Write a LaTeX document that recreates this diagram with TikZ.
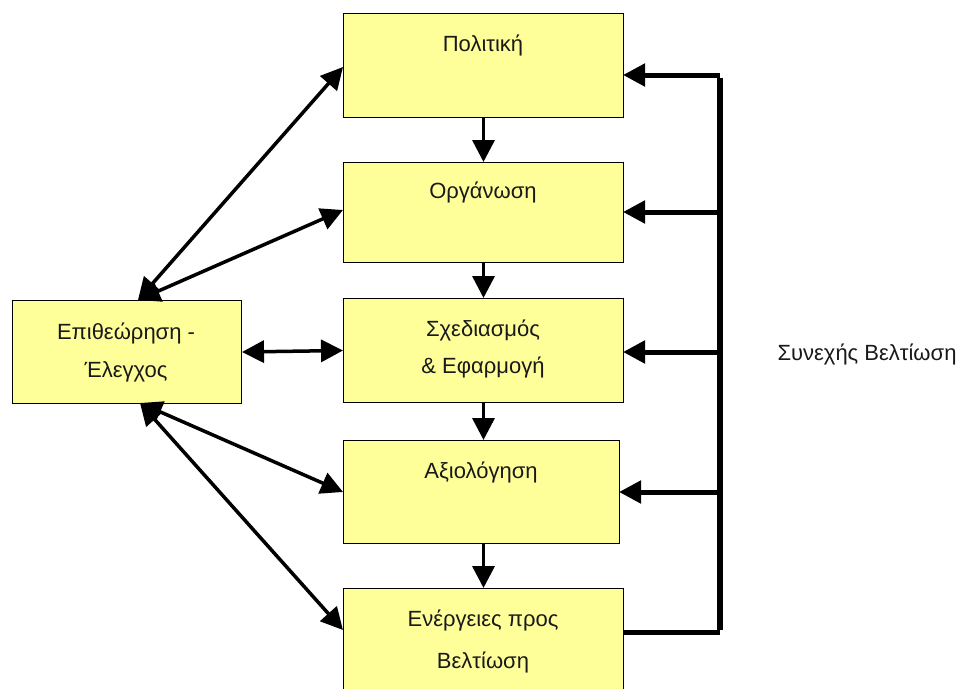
\documentclass[tikz,border=0pt]{standalone}
\usepackage{fontspec}
\setmainfont{Liberation Sans}
\usetikzlibrary{arrows.meta}
\definecolor{boxfill}{RGB}{255,255,153}
\tikzset{
  box/.style={draw=black, line width=1pt, fill=boxfill, anchor=north west, inner sep=0pt},
  lbl/.style={font=\fontsize{22}{26}\selectfont, inner sep=0pt, anchor=center, text=black!90},
  arr/.style={line width=3.5pt, -{Triangle[length=22pt,width=22pt]}},
  darr/.style={line width=3.5pt, {Triangle[length=22pt,width=22pt]}-{Triangle[length=22pt,width=22pt]}},
  bus/.style={line width=5pt},
}
\begin{document}
\begin{tikzpicture}[x=1pt,y=-1pt]
\useasboundingbox (0,0) rectangle (966,688);
\clip (0,0) rectangle (966,688);
% boxes
\node[box, minimum width=280pt, minimum height=104pt] (pol) at (343,13) {};
\node[box, minimum width=280pt, minimum height=100pt] (org) at (343,162) {};
\node[box, minimum width=280pt, minimum height=104pt] (sxe) at (343,298) {};
\node[box, minimum width=276pt, minimum height=103pt] (axi) at (343,440) {};
\node[box, minimum width=280pt, minimum height=110pt] (ene) at (343,588) {};
\node[box, minimum width=229pt, minimum height=103pt] (epi) at (12,300) {};
% labels
\node[lbl] (tpol) at (483,45) {Πολιτική};
\node[lbl] (torg) at (483,192) {Οργάνωση};
\node[lbl] (tsxe1) at (483,330) {Σχεδιασμός};
\node[lbl] (tsxe2) at (483,367) {\& Εφαρμογή};
\node[lbl] (taxi) at (481,472) {Αξιολόγηση};
\node[lbl] (tene1) at (483,620) {Ενέργειες προς};
\node[lbl] (tene2) at (483,662) {Βελτίωση};
\node[lbl] (tepi1) at (126,333) {Επιθεώρηση -};
\node[lbl] (tepi2) at (126,372) {Έλεγχος};
\node[lbl] (tsyn) at (867,354) {Συνεχής Βελτίωση};
% vertical flow
\draw[arr] (pol.south) -- (org.north);
\draw[arr] (org.south) -- (sxe.north);
\draw[arr] (sxe.south) -- (axi.north -| sxe.south);
\draw[arr] (axi.south -| sxe.south) -- (ene.north);
% right feedback bus
\coordinate (bt) at (720,75);
\coordinate (b2) at (720,212);
\coordinate (b3) at (720,352);
\coordinate (b4) at (720,492);
\coordinate (bb) at (720,632);
\coordinate (pin) at (623,75);
\coordinate (oin) at (623,212);
\coordinate (sin) at (623,352);
\coordinate (ain) at (619,492);
\coordinate (eout) at (623,632);
\draw[line width=6pt] ([yshift=-2.5pt]bt) -- ([yshift=2.5pt]bb);
\draw[bus] (eout) -- (bb);
\draw[bus, -{Triangle[length=22pt,width=22pt]}] (bt) -- (pin);
\draw[bus, -{Triangle[length=22pt,width=22pt]}] (b2) -- (oin);
\draw[bus, -{Triangle[length=22pt,width=22pt]}] (b3) -- (sin);
\draw[bus, -{Triangle[length=22pt,width=22pt]}] (b4) -- (ain);
% left links
\coordinate (et) at (138,300);
\coordinate (eb) at (140,403);
\coordinate (pl) at (343,67);
\coordinate (ol) at (343,210);
\coordinate (al) at (343,492);
\coordinate (el) at (343,630);
\draw[darr] (et) -- (pl);
\draw[darr] (et) -- (ol);
\draw[darr] (eb) -- (al);
\draw[darr] (eb) -- (el);
\draw[darr] (epi.east) -- (sxe.west);
\end{tikzpicture}
\end{document}
